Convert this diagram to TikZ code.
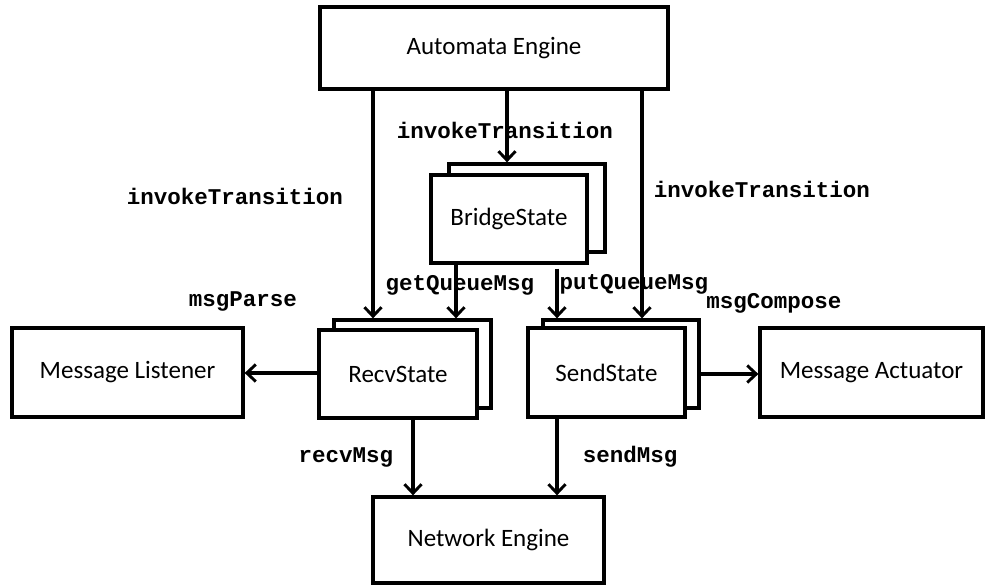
\documentclass[tikz,border=0pt]{standalone}
\usepackage{fontspec}
\setmainfont{Carlito}
\setmonofont{Liberation Mono}
\usetikzlibrary{arrows.meta}
\begin{document}
\begin{tikzpicture}[x=1pt,y=-1pt,
  box/.style={draw=black,line width=3.3pt,fill=white,rectangle,inner sep=0pt,
    font=\fontsize{25}{30}\selectfont},
  lbl/.style={font=\fontsize{22.5}{27}\selectfont\ttfamily\bfseries,inner sep=0pt},
  arr/.style={line width=3.1pt,-{Straight Barb[length=9pt,width=17pt,line width=2.9pt]}}]
\useasboundingbox (0,0) rectangle (985,585);
% boxes
\node[box,minimum width=348pt,minimum height=82pt] (auto) at (494,48) {\raisebox{-2pt}{Automata Engine}};
\node[box,minimum width=156pt,minimum height=88pt] (bridgeB) at (527,208) {};
\node[box,minimum width=156pt,minimum height=88pt] (bridgeF) at (509,219) {BridgeState};
\node[box,minimum width=157pt,minimum height=88pt] (recvB) at (412.5,364) {};
\node[box,minimum width=158pt,minimum height=88pt] (recvF) at (398,374) {RecvState};
\node[box,minimum width=156pt,minimum height=88pt] (sendB) at (621,364) {};
\node[box,minimum width=157pt,minimum height=89pt] (sendF) at (606.5,372.5) {SendState};
\node[box,minimum width=231pt,minimum height=89pt] (listener) at (127.5,372.5) {Message Listener};
\node[box,minimum width=223pt,minimum height=89pt] (actuator) at (871.5,372.5) {Message Actuator};
\node[box,minimum width=231pt,minimum height=86pt] (network) at (488.5,540) {\raisebox{-1pt}{Network Engine}};
% connectors
\draw[arr] (auto.south -| 373,0) -- (recvB.north -| 373,0);
\draw[arr] (auto.south -| 507,0) -- (bridgeB.north -| 507,0);
\draw[arr] (auto.south -| 642,0) -- (sendB.north -| 642,0);
\draw[arr] (bridgeF.south -| 456,0) -- (recvB.north -| 456,0);
\coordinate (pq) at ([yshift=-4pt]bridgeF.south -| 557,0);
\draw[arr] (pq) -- (sendB.north -| 557,0);
\draw[arr] (recvF.west |- 0,373) -- (listener.east |- 0,373);
\draw[arr] (sendB.east |- 0,374) -- (actuator.west |- 0,374);
\draw[arr] (recvF.south -| 413,0) -- (network.north -| 413,0);
\draw[arr] (sendF.south -| 557,0) -- (network.north -| 557,0);
% labels
\node[lbl] (l1) at (505,130) {invokeTransition};
\node[lbl] (l2) at (235,196) {invokeTransition};
\node[lbl] (l3) at (762,189) {invokeTransition};
\node[lbl] (l4) at (460,285) {getQueueMsg};
\node[lbl] (l5) at (634,284) {putQueueMsg};
\node[lbl] (l6) at (243,301) {msgParse};
\node[lbl] (l7) at (774,303) {msgCompose};
\node[lbl] (l8) at (346,457) {recvMsg};
\node[lbl] (l9) at (630,457) {sendMsg};
\end{tikzpicture}
\end{document}
